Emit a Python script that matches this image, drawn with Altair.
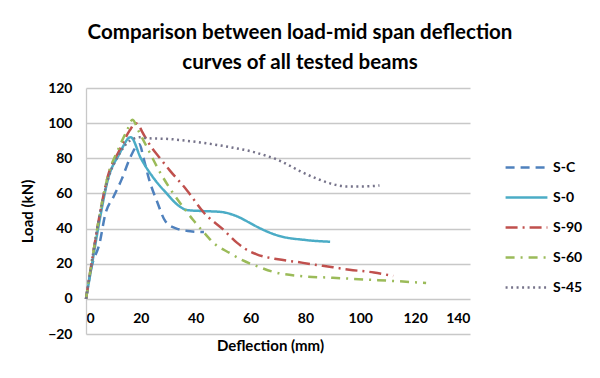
import altair as alt
import pandas as pd

series = ["S-C", "S-0", "S-90", "S-60", "S-45"]
colors = ["#4F81BD", "#4BACC6", "#C0504D", "#9BBB59", "#76738a"]
dashes = [[9, 6], [1, 0], [12, 5, 2, 5], [9, 6, 2, 6], [2, 3.5]]

sc_x = [0, 2, 5, 7, 10, 13, 16, 18, 19.5, 21, 23, 26, 29, 33, 38, 43]
sc_y = [0, 18, 32, 48, 58, 68, 80, 86, 88, 80, 68, 55, 44, 40, 38.5, 38]

s0_x = [0, 2, 5, 8, 12, 16.3, 20, 25, 29.4, 33, 37, 42, 49, 55, 60, 63, 70, 80, 89]
s0_y = [0, 18, 45, 68, 82, 92, 80, 68, 60, 54, 50.5, 50, 49.5, 47, 43, 40.5, 36, 33.5, 32.5]

s90_x = [0, 2, 5, 8, 12, 16, 18, 19.5, 20.5, 24, 27, 30.6, 36.7, 43, 50, 55, 58, 62, 70, 77, 81, 90, 96, 105, 112]
s90_y = [0, 20, 48, 70, 84, 96, 100, 98, 95, 86, 80, 73, 62, 49, 39.5, 32, 28.5, 25.5, 22.5, 21, 20, 18, 16.6, 15, 13]

s60_x = [0, 2, 5, 8, 12, 15, 17, 19, 22, 27, 31.8, 36, 39, 44, 46.4, 52.5, 57, 62.5, 67.7, 78, 90, 102, 114, 124]
s60_y = [0, 20, 48, 70, 86, 96, 102, 96, 87, 72, 60, 51, 45, 36, 32, 26, 22, 18.5, 15.6, 13, 12, 11, 10, 9]

s45_x = [0, 2, 5, 8, 12, 16, 20, 22, 30, 41.6, 53.7, 60, 66, 69.5, 74, 78, 84, 89, 95, 101, 107]
s45_y = [0, 20, 48, 68, 82, 90, 92, 91.5, 91, 89, 86, 84, 81.3, 79.4, 76, 72.7, 68.5, 65.7, 64, 64, 64.5]

x_ticks = [0, 20, 40, 60, 80, 100, 120, 140]
y_ticks = [-20, 0, 20, 40, 60, 80, 100, 120]

rows = []
for name, xs, ys in zip(series, [sc_x, s0_x, s90_x, s60_x, s45_x], [sc_y, s0_y, s90_y, s60_y, s45_y]):
    for i, (a, b) in enumerate(zip(xs, ys)):
        rows.append({"series": name, "defl": a, "load": b, "order": i})
df = pd.DataFrame(rows)

FONT = "Lato"

legend = alt.Legend(
    title=None, orient="none", legendX=418, legendY=57,
    symbolType="stroke", symbolSize=1750, symbolStrokeWidth=2.5,
    labelFont=FONT, labelFontSize=14, labelFontWeight="bold", labelColor="#000000",
    labelOffset=4, rowPadding=-4.5,
)

chart = alt.Chart(df).mark_line(strokeWidth=2.5, interpolate="monotone").encode(
    x=alt.X("defl:Q", scale=alt.Scale(domain=[0, 140], nice=False),
            axis=alt.Axis(values=x_ticks, title="Deflection (mm)", offset=-35, domain=False,
                          ticks=False, grid=False, labelPadding=12, labelFont=FONT,
                          labelFontSize=14, labelFontWeight="bold", labelColor="#000000",
                          titleFont=FONT, titleFontSize=15, titleFontWeight="bold",
                          titleColor="#000000", titleX=184, titleY=46, titleBaseline="middle")),
    y=alt.Y("load:Q", scale=alt.Scale(domain=[-20, 120], nice=False),
            axis=alt.Axis(values=y_ticks, title="Load (kN)", grid=True, gridColor="#c8c8c8",
                          gridWidth=1.3, domain=True, domainColor="#c8c8c8", domainWidth=1.3,
                          ticks=False, labelPadding=14, labelFont=FONT, labelFontSize=14,
                          labelFontWeight="bold", labelColor="#000000", titleFont=FONT,
                          titleFontSize=15, titleFontWeight="bold", titleColor="#000000",
                          titlePadding=12)),
    color=alt.Color("series:N", sort=series, scale=alt.Scale(domain=series, range=colors), legend=legend),
    strokeDash=alt.StrokeDash("series:N", sort=series, scale=alt.Scale(domain=series, range=dashes), legend=legend),
    order="order:Q",
).properties(
    width=384, height=246,
    title=alt.TitleParams(
        ["Comparison between load-mid span deflection", "curves of all tested beams"],
        font=FONT, fontSize=20.5, fontWeight="bold", color="#000000", lineHeight=30,
        anchor="middle", dx=22, offset=8,
    ),
    autosize=alt.AutoSizeParams(type="none"),
    padding={"left": 78, "top": 80, "right": 118, "bottom": 30},
    background="white",
).configure_view(stroke=None)

chart.save("out.html", embed_options={"renderer": "svg", "actions": False})
